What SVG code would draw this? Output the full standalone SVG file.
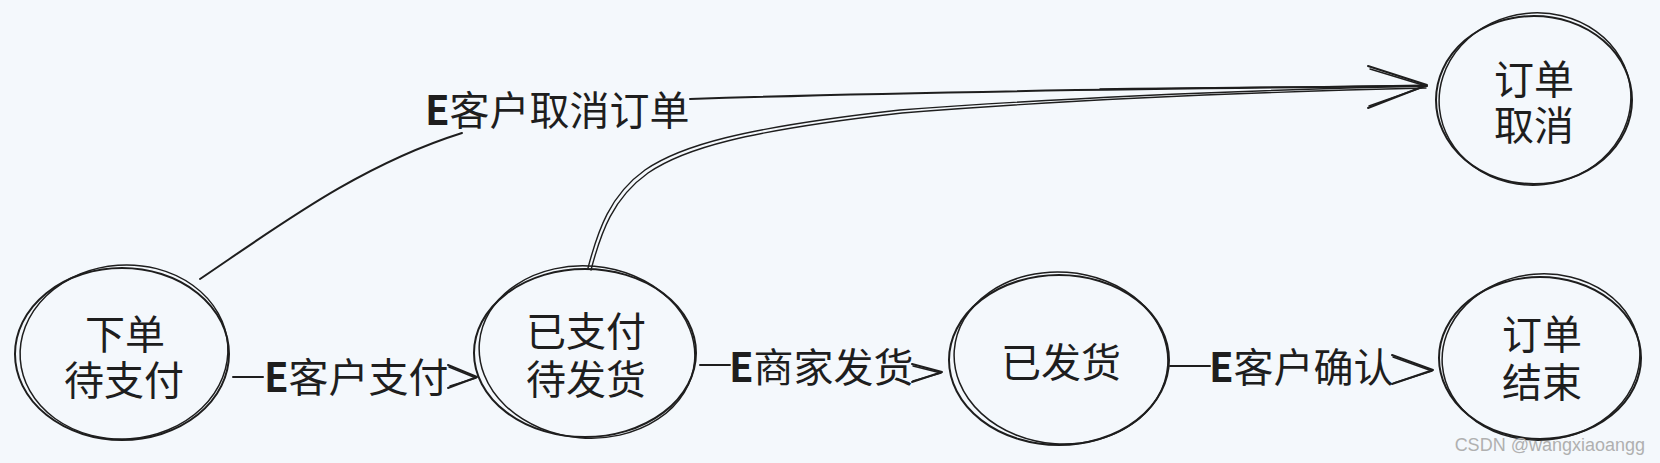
<svg xmlns="http://www.w3.org/2000/svg" width="1660" height="463" viewBox="0 0 1660 463">
<style>
.bg{fill:#f4f8fc}
.o1{fill:none;stroke:#1e1e1e;stroke-width:2}
.o2{fill:none;stroke:#1e1e1e;stroke-width:1.5}
.t{font-family:"Liberation Sans","Noto Sans CJK SC",sans-serif;font-size:40px;fill:#1e1e1e;text-anchor:middle}
.lb{font-family:"Noto Sans CJK SC","Noto Sans",sans-serif;font-size:40px;fill:#1e1e1e}
.e{font-weight:bold}
.c{fill:none;stroke:#1e1e1e;stroke-width:2;stroke-linecap:round;stroke-linejoin:round}
.c2{fill:none;stroke:#1e1e1e;stroke-width:1.4;stroke-linecap:round;stroke-linejoin:round}
.wm{font-family:"Liberation Sans",sans-serif;font-size:18px;fill:#b0b0b0;text-anchor:end}
</style>
<rect class="bg" x="0" y="0" width="1660" height="463"/>
<g id="connectors">
  <path class="c" d="M233 377 L263 377"/>
  <path class="c" d="M448 365 L477 377 L448 388"/>
  <path class="c2" d="M449 367 L476 378 L450 386"/>
  <path class="c" d="M700 365 L730 365"/>
  <path class="c" d="M912 364 L942 372 L912 382"/>
  <path class="c2" d="M913 366 L941 373 L913 381"/>
  <path class="c" d="M1170 366 L1210 366"/>
  <path class="c" d="M1392 355 L1433 370 L1392 384"/>
  <path class="c2" d="M1393 357 L1432 371 L1394 383"/>
  <path class="c" d="M200 279 C 280 225, 360 165, 462 133"/>
  <path class="c" d="M690 99 C 900 92, 1200 88, 1427 86"/>
  <path class="c2" d="M1100 89 C 1250 87, 1350 87, 1426 85"/>
  <path class="c2" d="M588 268 C 598 230, 610 195, 645 170 C 680 146, 740 128, 900 110 C 1100 95, 1300 89, 1427 86"/>
  <path class="c2" d="M591 270 C 601 232, 613 198, 648 173 C 683 149, 743 131, 902 113 C 1102 97, 1300 91, 1426 88"/>
  <path class="c" d="M1368 66 L1427 85 L1368 108"/>
  <path class="c2" d="M1370 69 L1426 86 L1369 106"/>
  <text class="lb" x="264" y="392"><tspan class="e">E</tspan>客户支付</text>
  <text class="lb" x="729" y="382"><tspan class="e">E</tspan>商家发货</text>
  <text class="lb" x="1209" y="382"><tspan class="e">E</tspan>客户确认</text>
  <text class="lb" x="425" y="125"><tspan class="e">E</tspan>客户取消订单</text>
</g>
<g id="node-pending-payment">
  <ellipse class="o1" cx="122" cy="354" rx="107" ry="86"/>
  <ellipse class="o2" cx="124" cy="352" rx="104" ry="87" transform="rotate(-4 124 352)"/>
  <text class="t"><tspan x="125" y="349">下单</tspan><tspan x="124" y="395">待支付</tspan></text>
</g>
<g id="node-paid">
  <ellipse class="o1" cx="585" cy="353" rx="111" ry="84"/>
  <ellipse class="o2" cx="587" cy="352" rx="108" ry="86" transform="rotate(5 587 352)"/>
  <text class="t"><tspan x="586" y="346">已支付</tspan><tspan x="586" y="394">待发货</tspan></text>
</g>
<g id="node-shipped">
  <ellipse class="o1" cx="1059" cy="360" rx="110" ry="85"/>
  <ellipse class="o2" cx="1061" cy="358" rx="107" ry="86" transform="rotate(4 1061 358)"/>
  <text class="t" x="1061" y="377">已发货</text>
</g>
<g id="node-finished">
  <ellipse class="o1" cx="1540" cy="358" rx="101" ry="81"/>
  <ellipse class="o2" cx="1541" cy="357" rx="99" ry="83" transform="rotate(-5 1541 357)"/>
  <text class="t"><tspan x="1542" y="349">订单</tspan><tspan x="1542" y="397">结束</tspan></text>
</g>
<g id="node-cancelled">
  <ellipse class="o1" cx="1534" cy="100" rx="98" ry="84"/>
  <ellipse class="o2" cx="1535" cy="99" rx="96" ry="86" transform="rotate(-6 1535 99)"/>
  <text class="t"><tspan x="1534" y="94">订单</tspan><tspan x="1534" y="140">取消</tspan></text>
</g>
<text class="wm" x="1645" y="451">CSDN @wangxiaoangg</text>
</svg>
